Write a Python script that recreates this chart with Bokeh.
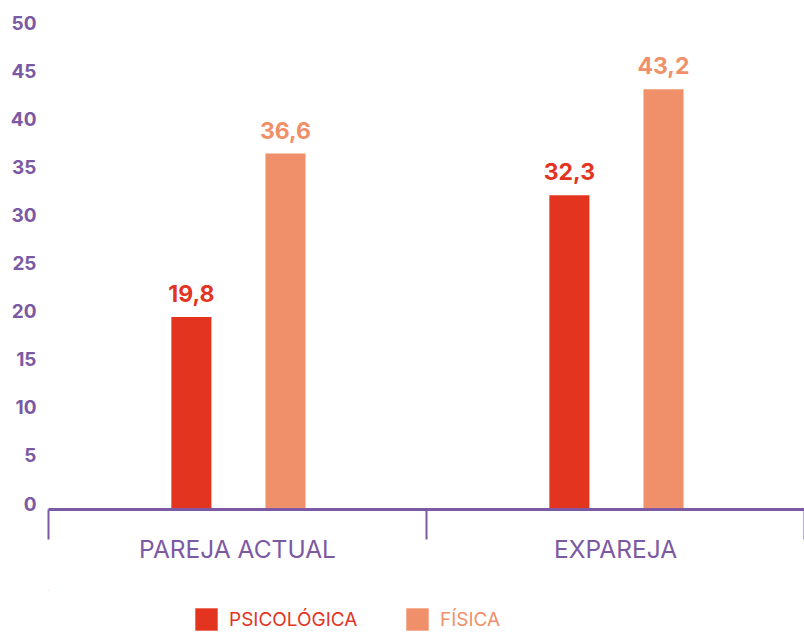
from bokeh.plotting import figure
from bokeh.layouts import column
from bokeh.models import (Range1d, FixedTicker, ColumnDataSource, LabelSet, Legend,
                          LegendItem, LinearAxis)
from bokeh.core.properties import value
from bokeh.transform import dodge
from bokeh.embed import file_html
from bokeh.resources import INLINE

# ---- data ----
categories = ["PAREJA ACTUAL", "EXPAREJA"]
psicologica = [19.8, 32.3]
fisica = [36.6, 43.2]
series_names = ["PSICOLÓGICA", "FÍSICA"]
y_ticks = [0, 5, 10, 15, 20, 25, 30, 35, 40, 45, 50]

PURPLE = "#7B5AA3"
RED = "#E3341F"
SALMON = "#EF906A"
FONT = "Inter"

centers = [i + 0.5 for i in range(len(categories))]
bounds = [float(i) for i in range(len(categories) + 1)]

src = ColumnDataSource(dict(
    x=centers,
    psi=psicologica,
    fis=fisica,
    psi_txt=[f"{v:.1f}".replace(".", ",") for v in psicologica],
    fis_txt=[f"{v:.1f}".replace(".", ",") for v in fisica],
))

p = figure(width=804, height=590, output_backend="svg", toolbar_location=None,
           x_range=Range1d(0, len(categories)), y_range=Range1d(0, 51),
           y_axis_location=None,
           min_border_left=48, min_border_right=0, min_border_top=13,
           min_border_bottom=81)
p.background_fill_color = None
p.border_fill_color = None
p.outline_line_color = None
p.grid.visible = False

p.vbar(x=dodge("x", -0.122, range=p.x_range), top="psi", width=0.106,
       source=src, color=RED, line_color=None)
p.vbar(x=dodge("x", 0.127, range=p.x_range), top="fis", width=0.106,
       source=src, color=SALMON, line_color=None)

for col, txt, off, color in [("psi", "psi_txt", -0.122, RED), ("fis", "fis_txt", 0.127, SALMON)]:
    ls = LabelSet(x=dodge("x", off, range=p.x_range), y=col, text=txt, source=src,
                  text_align="center", text_baseline="alphabetic", y_offset=15,
                  text_color=color, text_font=value(FONT), text_font_size="23px",
                  text_font_style="bold")
    p.add_layout(ls)

# y axis (its labels sit slightly tighter than the bar scale, as in the original)
p.extra_y_ranges = {"labels": Range1d(-0.62, 50.94)}
ya = LinearAxis(y_range_name="labels", ticker=FixedTicker(ticks=y_ticks))
ya.axis_line_color = None
ya.major_tick_line_color = None
ya.minor_tick_line_color = None
ya.major_tick_out = 0
ya.major_label_standoff = 12
ya.major_label_text_color = PURPLE
ya.major_label_text_font = FONT
ya.major_label_text_font_size = "19px"
ya.major_label_text_font_style = "bold"
p.add_layout(ya, "left")

# x axis
xa = p.xaxis[0]
xa.ticker = FixedTicker(ticks=centers, minor_ticks=bounds)
xa.major_label_overrides = {c: name for c, name in zip(centers, categories)}
xa.axis_line_color = PURPLE
xa.axis_line_width = 3
xa.major_tick_line_color = None
xa.major_tick_out = 0
xa.major_tick_in = 0
xa.minor_tick_line_color = PURPLE
xa.minor_tick_line_width = 2
xa.minor_tick_out = 30
xa.minor_tick_in = 0
xa.major_label_standoff = -6
xa.major_label_text_color = PURPLE
xa.major_label_text_font = FONT
xa.major_label_text_font_size = "24.5px"

# legend strip (separate small figure; its bars lie outside its view)
lp = figure(width=804, height=43, output_backend="svg", toolbar_location=None,
            x_range=Range1d(100, 101), y_range=Range1d(-2, -1),
            x_axis_type=None, y_axis_type=None,
            min_border_left=0, min_border_right=0, min_border_top=0, min_border_bottom=0)
lp.background_fill_color = None
lp.border_fill_color = None
lp.outline_line_color = None
lp.grid.visible = False
l1 = lp.vbar(x="x", top="psi", width=0.106, source=src, color=RED, line_color=None)
l2 = lp.vbar(x="x", top="fis", width=0.106, source=src, color=SALMON, line_color=None)

for name, rend, color, lx in [(series_names[0], l1, RED, 144), (series_names[1], l2, SALMON, 355)]:
    lg = Legend(items=[LegendItem(label=name, renderers=[rend])],
                location=(lx, 0), orientation="horizontal",
                glyph_width=28, glyph_height=28, label_standoff=9,
                padding=0, margin=0, border_line_color=None,
                background_fill_alpha=0,
                label_text_color=color, label_text_font=FONT,
                label_text_font_size="19px")
    lp.add_layout(lg, "center")

layout = column(p, lp, spacing=0)
open("out.html", "w").write(file_html(layout, INLINE))
